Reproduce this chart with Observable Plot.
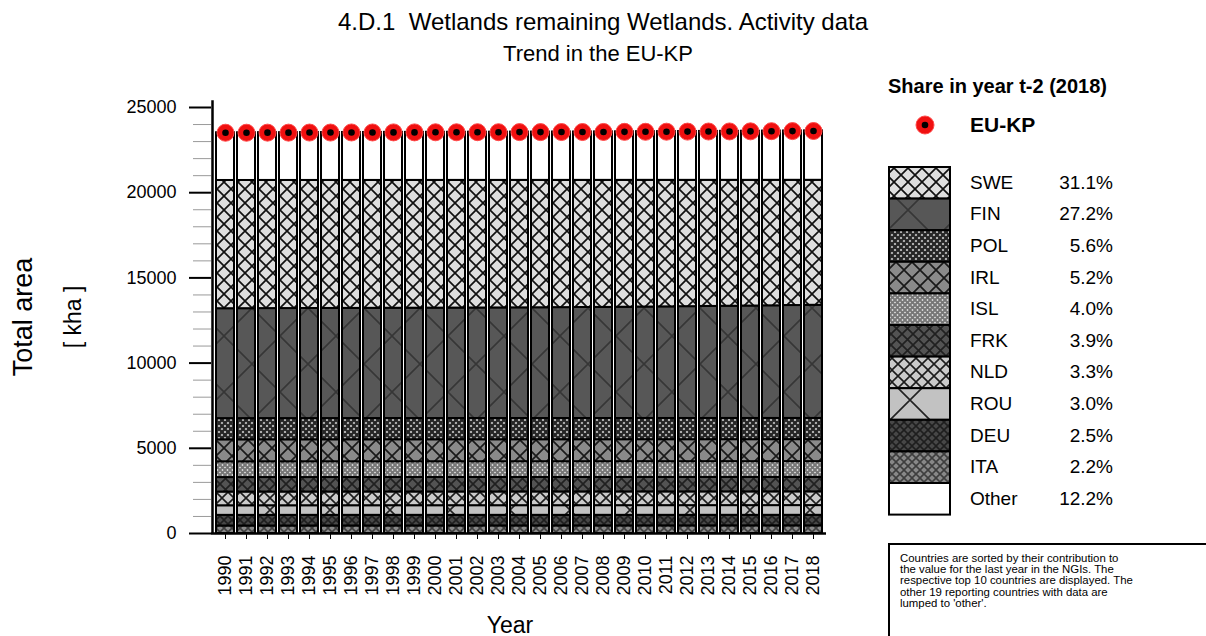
<!DOCTYPE html>
<html><head><meta charset="utf-8">
<script src="https://cdn.jsdelivr.net/npm/d3@7"></script>
<script src="https://cdn.jsdelivr.net/npm/@observablehq/plot@0.6"></script>
<style>
body{margin:0;background:#fff;font-family:"Liberation Sans",Arial,sans-serif;color:#000;}
#root{position:relative;width:1206px;height:636px;overflow:hidden;background:#fff;}
.abs{position:absolute;white-space:nowrap;}
#chart{position:absolute;left:0;top:0;}
</style></head><body><div id="root"><div id="chart"></div></div>
<script>
// ---------- DATA ----------
const years = ["1990","1991","1992","1993","1994","1995","1996","1997","1998","1999","2000","2001","2002","2003","2004","2005","2006","2007","2008","2009","2010","2011","2012","2013","2014","2015","2016","2017","2018"];
// stacking order, bottom to top
const countries = ["ITA","DEU","ROU","NLD","FRK","ISL","IRL","POL","FIN","SWE","Other"];
// kha per year
const ITA = [440,440,441,441,442,442,443,443,444,444,444,445,445,445,446,446,446,447,447,447,448,448,448,449,449,449,450,450,450];
const DEU = [625,625,625,624,624,624,623,623,623,622,622,622,621,621,621,621,620,620,620,620,620,619,619,619,619,618,618,618,618];
const ROU = [562,562,563,563,563,564,564,564,565,565,565,565,566,566,566,566,567,567,567,567,568,568,568,568,569,569,569,570,570];
const NLD = [805,805,805,805,805,805,805,805,805,805,805,805,805,805,805,805,805,805,805,805,805,805,805,805,805,805,805,805,805];
const FRK = [850,850,850,850,850,850,850,850,850,850,850,850,850,850,850,850,850,850,850,850,850,850,850,850,850,850,850,850,850];
const ISL = [925,925,925,925,925,925,925,925,925,925,925,925,925,925,925,925,925,925,925,925,925,925,925,925,925,925,925,925,925];
const IRL = [1290,1290,1290,1290,1290,1290,1290,1290,1290,1290,1290,1290,1290,1290,1290,1290,1290,1290,1290,1290,1290,1290,1290,1290,1290,1290,1290,1290,1290];
const POL = [1245,1245,1245,1245,1245,1245,1245,1245,1245,1245,1245,1245,1245,1245,1245,1245,1245,1245,1245,1245,1245,1245,1245,1245,1245,1245,1245,1245,1245];
const FIN = [6450,6452,6455,6458,6460,6462,6466,6470,6472,6476,6480,6482,6486,6490,6494,6500,6508,6514,6520,6530,6540,6550,6562,6574,6586,6598,6610,6625,6640];
const SWE = [7525,7523,7520,7517,7515,7513,7509,7505,7503,7499,7495,7493,7489,7485,7481,7475,7467,7461,7455,7445,7435,7425,7413,7401,7389,7377,7365,7350,7335];
const Other = [2800,2800,2805,2805,2810,2810,2815,2815,2820,2820,2825,2825,2830,2830,2835,2835,2840,2840,2845,2850,2855,2860,2865,2870,2875,2880,2890,2895,2900];
// EU-KP total
const totals = [23520,23520,23525,23525,23530,23530,23535,23535,23540,23540,23545,23545,23550,23550,23555,23555,23560,23560,23565,23570,23575,23580,23585,23590,23595,23600,23610,23615,23620];
// legend (top to bottom) and shares in 2018
const legendNames = ["SWE","FIN","POL","IRL","ISL","FRK","NLD","ROU","DEU","ITA","Other"];
const legendShares = ["31.1%","27.2%","5.6%","5.2%","4.0%","3.9%","3.3%","3.0%","2.5%","2.2%","12.2%"];
const yTicks = [0,5000,10000,15000,20000,25000];
const yMinorTicks = [1000,2000,3000,4000,6000,7000,8000,9000,11000,12000,13000,14000,16000,17000,18000,19000,21000,22000,23000,24000];
const noteLines = [
  "Countries are sorted by their contribution to",
  "the value for the last year in the NGIs. The",
  "respective top 10 countries are displayed. The",
  "other 19 reporting countries with data are",
  "lumped to 'other'."
];

const series = {ITA, DEU, ROU, NLD, FRK, ISL, IRL, POL, FIN, SWE, Other};

// ---------- PATTERN STYLES ----------
const patternStyles = {
  SWE:   {bg:"#dedede", line:"#111", size:14, w:1.7},
  FIN:   {bg:"#575757", line:"#363636", size:56, w:1.6},
  POL:   {bg:"#d6d6d6", line:"#262626", size:6, w:2.4},
  IRL:   {bg:"#8a8a8a", line:"#1a1a1a", size:16, w:1.7},
  ISL:   {bg:"#e6e6e6", line:"#777", size:5, w:2.0},
  FRK:   {bg:"#535353", line:"#202020", size:11, w:1.7},
  NLD:   {bg:"#cacaca", line:"#1c1c1c", size:12, w:1.6},
  ROU:   {bg:"#c2c2c2", line:"#222", size:60, w:1.6},
  DEU:   {bg:"#474747", line:"#1e1e1e", size:8, w:1.6},
  ITA:   {bg:"#888", line:"#3e3e3e", size:8, w:1.6},
  Other: {bg:"#ffffff", line:"none", size:10, w:0}
};

const defsSvg = d3.select("body").append("svg")
  .attr("width", 0).attr("height", 0)
  .style("position", "absolute").style("left", "0").style("top", "0");
const defs = defsSvg.append("defs");
for (const c of countries) {
  const s = patternStyles[c];
  const p = defs.append("pattern").attr("id", "pat-" + c)
    .attr("patternUnits", "userSpaceOnUse").attr("width", s.size).attr("height", s.size);
  p.append("rect").attr("width", s.size).attr("height", s.size).attr("fill", s.bg);
  if (s.line !== "none") {
    p.append("path").attr("d", `M0,0L${s.size},${s.size}M${s.size},0L0,${s.size}`)
      .attr("stroke", s.line).attr("stroke-width", s.w).attr("fill", "none");
  }
}

// ---------- CHART ----------
const rows = [];
for (const c of countries) series[c].forEach((v, i) => rows.push({year: years[i], country: c, value: v}));
const totalRows = years.map((y, i) => ({year: y, total: totals[i]}));

const chart = Plot.plot({
  width: 870, height: 636,
  marginLeft: 211, marginRight: 44, marginTop: 107, marginBottom: 103,
  style: {fontFamily: "'Liberation Sans', Arial, sans-serif", background: "transparent", color: "#000", overflow: "visible"},
  x: {type: "band", domain: years, padding: 0.15, label: null},
  y: {domain: [0, 25000], label: null},
  color: {type: "ordinal", domain: countries, range: countries.map(c => `url(#pat-${c})`)},
  marks: [
    Plot.barY(rows, {x: "year", y: "value", fill: "country", stroke: "#000", strokeWidth: 2}),
    Plot.axisY({ticks: yMinorTicks, tickSize: 18, tickFormat: () => "", stroke: "#9a9a9a", strokeWidth: 1, label: null}),
    Plot.axisY({ticks: yTicks, tickSize: 22, tickPadding: 13, fontSize: 18, strokeWidth: 2, tickFormat: d => String(d), label: null}),
    Plot.axisX({tickSize: 6, tickRotate: -90, tickPadding: 16, fontSize: 18, label: null}),
    Plot.ruleY([0], {stroke: "#000", strokeWidth: 2.5}),
    Plot.ruleX([years[0]], {y1: 0, y2: 25400, dx: -13, stroke: "#000", strokeWidth: 2.5}),
    Plot.dot(totalRows, {x: "year", y: "total", r: 8.5, fill: "#f01010", stroke: "#ff4a4a", strokeWidth: 1}),
    Plot.dot(totalRows, {x: "year", y: "total", r: 3.3, fill: "#000"})
  ]
});
document.getElementById("chart").appendChild(chart);

// ---------- TEXTS ----------
const root = d3.select("#root");
root.append("div").attr("class", "abs").text("4.D.1  Wetlands remaining Wetlands. Activity data")
  .style("left", "603px").style("top", "22px").style("font-size", "24px").style("white-space", "pre")
  .style("transform", "translate(-50%,-50%)");
root.append("div").attr("class", "abs").text("Trend in the EU-KP")
  .style("left", "598px").style("top", "54px").style("font-size", "22px")
  .style("transform", "translate(-50%,-50%)");
root.append("div").attr("class", "abs").text("Total area")
  .style("left", "23px").style("top", "317px").style("font-size", "27px")
  .style("transform", "translate(-50%,-50%) rotate(-90deg)");
root.append("div").attr("class", "abs").text("[ kha ]")
  .style("left", "73px").style("top", "317px").style("font-size", "23px")
  .style("transform", "translate(-50%,-50%) rotate(-90deg)");
root.append("div").attr("class", "abs").text("Year")
  .style("left", "510px").style("top", "625px").style("font-size", "23px")
  .style("transform", "translate(-50%,-50%)");

// ---------- LEGEND ----------
const leg = root.append("svg").attr("width", 326).attr("height", 460)
  .style("position", "absolute").style("left", "880px").style("top", "70px")
  .style("font-family", "'Liberation Sans', Arial, sans-serif");
leg.append("text").attr("x", 8).attr("y", 18).attr("dominant-baseline", "middle")
  .attr("font-size", 20).attr("font-weight", "bold").text("Share in year t-2 (2018)");
leg.append("circle").attr("cx", 45).attr("cy", 55).attr("r", 9).attr("fill", "#f01010").attr("stroke", "#ff4a4a");
leg.append("circle").attr("cx", 45).attr("cy", 55).attr("r", 3.3).attr("fill", "#000");
leg.append("text").attr("x", 90).attr("y", 56).attr("dominant-baseline", "middle")
  .attr("font-size", 21).attr("font-weight", "bold").text("EU-KP");
const rowH = 31.6, top0 = 97;
legendNames.forEach((n, i) => {
  const y = top0 + i * rowH;
  leg.append("rect").attr("x", 9).attr("y", y).attr("width", 61).attr("height", rowH)
    .attr("fill", `url(#pat-${n})`).attr("stroke", "#000").attr("stroke-width", 2);
  leg.append("text").attr("x", 90).attr("y", y + rowH / 2 + 1).attr("dominant-baseline", "middle")
    .attr("font-size", 19).text(n);
  leg.append("text").attr("x", 233).attr("y", y + rowH / 2 + 1).attr("dominant-baseline", "middle")
    .attr("text-anchor", "end").attr("font-size", 19).text(legendShares[i]);
});

// ---------- NOTE ----------
const note = root.append("div").attr("class", "abs")
  .style("left", "888px").style("top", "543px").style("width", "340px").style("height", "110px")
  .style("border", "2px solid #000").style("box-sizing", "border-box")
  .style("padding", "8px 0 0 10px");
noteLines.forEach(t => note.append("div").text(t)
  .style("font-size", "11.4px").style("line-height", "11.2px").style("height", "11.2px").style("overflow", "visible"));
</script>
</body></html>
